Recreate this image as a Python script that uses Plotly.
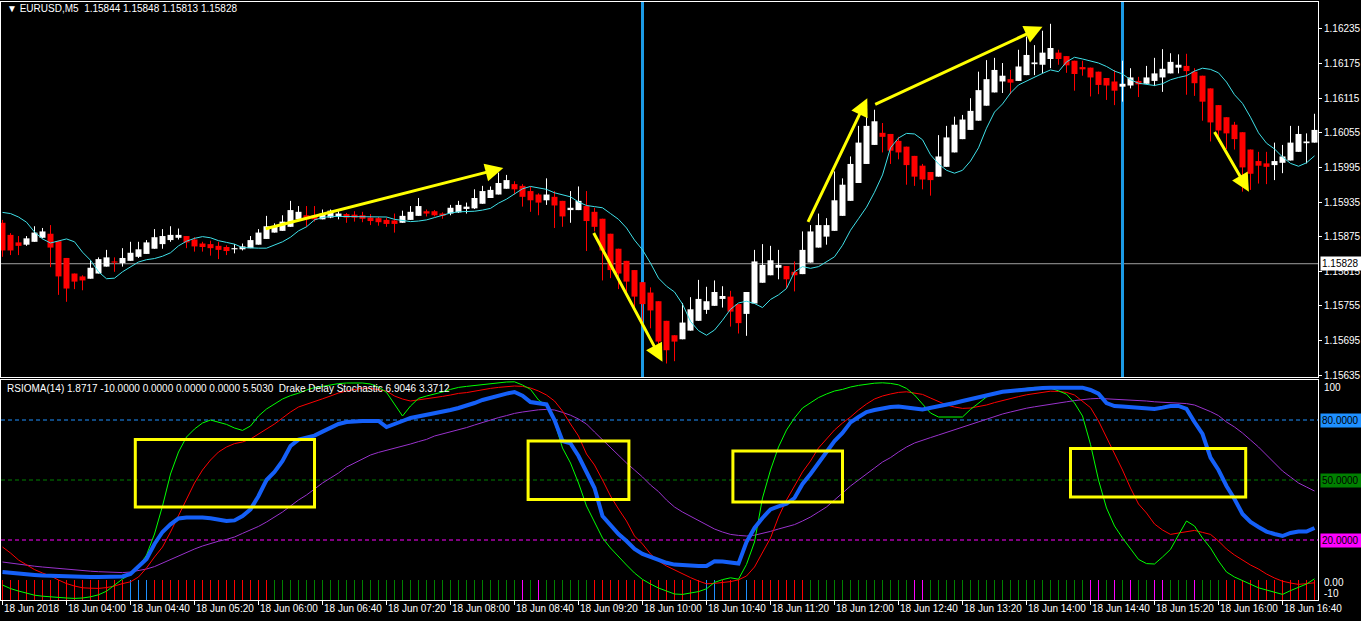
import plotly.graph_objects as go

# ---------------- data (EURUSD M5, bars from 18 Jun 03:20) ----------------
open_ = [1.15899,1.15878,1.15865,1.15861,1.15866,1.15873,1.15880,1.15867,1.15838,1.15811,
1.15806,1.15802,1.15811,1.15823,1.15832,1.15829,1.15833,1.15840,1.15845,1.15854,
1.15862,1.15869,1.15873,1.15876,1.15870,1.15863,1.15862,1.15859,1.15857,1.15853,
1.15853,1.15855,1.15861,1.15871,1.15882,1.15885,1.15892,1.15905,1.15912,1.15912,
1.15905,1.15908,1.15910,1.15914,1.15913,1.15912,1.15908,1.15907,1.15904,1.15903,
1.15899,1.15904,1.15911,1.15919,1.15919,1.15915,1.15915,1.15917,1.15923,1.15924,
1.15932,1.15942,1.15948,1.15958,1.15966,1.15963,1.15954,1.15948,1.15938,1.15944,
1.15937,1.15921,1.15921,1.15928,1.15918,1.15906,1.15880,1.15854,1.15833,1.15817,
1.15796,1.15778,1.15763,1.15729,1.15704,1.15697,1.15712,1.15729,1.15748,1.15755,
1.15767,1.15771,1.15758,1.15741,1.15759,1.15795,1.15808,1.15821,1.15824,1.15814,
1.15810,1.15830,1.15856,1.15875,1.15885,1.15911,1.15937,1.15968,1.16001,1.16034,
1.16055,1.16053,1.16041,1.16031,1.16015,1.15998,1.15987,1.15979,1.15996,1.16021,
1.16044,1.16060,1.16076,1.16102,1.16125,1.16144,1.16148,1.16145,1.16155,1.16174,
1.16173,1.16183,1.16194,1.16188,1.16180,1.16169,1.16168,1.16161,1.16150,1.16144,
1.16135,1.16137,1.16145,1.16140,1.16145,1.16151,1.16158,1.16168,1.16171,1.16161,
1.16154,1.16132,1.16103,1.16082,1.16069,1.16056,1.16026,1.16006,1.16002,1.15999,
1.16003,1.16007,1.16022,1.16037,1.16038]
high_ = [1.15904,1.15881,1.15876,1.15876,1.15893,1.15890,1.15895,1.15867,1.15838,1.15811,
1.15808,1.15834,1.15839,1.15852,1.15839,1.15855,1.15866,1.15866,1.15869,1.15888,
1.15888,1.15893,1.15889,1.15876,1.15874,1.15866,1.15868,1.15866,1.15860,1.15862,
1.15863,1.15876,1.15888,1.15911,1.15898,1.15912,1.15937,1.15928,1.15928,1.15928,
1.15922,1.15922,1.15919,1.15916,1.15919,1.15918,1.15914,1.15909,1.15908,1.15915,
1.15920,1.15928,1.15942,1.15922,1.15921,1.15917,1.15930,1.15937,1.15934,1.15957,
1.15963,1.15962,1.15986,1.15982,1.15971,1.15966,1.15962,1.15950,1.15976,1.15954,
1.15937,1.15954,1.15962,1.15954,1.15925,1.15906,1.15880,1.15854,1.15833,1.15817,
1.15796,1.15787,1.15763,1.15729,1.15704,1.15760,1.15770,1.15800,1.15788,1.15799,
1.15789,1.15781,1.15758,1.15779,1.15852,1.15862,1.15859,1.15852,1.15824,1.15832,
1.15884,1.15895,1.15915,1.15907,1.15988,1.15976,1.16014,1.16067,1.16083,1.16095,
1.16072,1.16053,1.16048,1.16031,1.16015,1.16001,1.15987,1.16051,1.16067,1.16083,
1.16086,1.16115,1.16161,1.16181,1.16185,1.16176,1.16164,1.16199,1.16222,1.16207,
1.16232,1.16244,1.16199,1.16188,1.16180,1.16180,1.16168,1.16161,1.16150,1.16164,
1.16180,1.16167,1.16152,1.16171,1.16185,1.16200,1.16193,1.16191,1.16192,1.16167,
1.16154,1.16132,1.16103,1.16082,1.16074,1.16056,1.16026,1.16022,1.16022,1.16038,
1.16034,1.16067,1.16067,1.16054,1.16088]
low_ = [1.15840,1.15843,1.15843,1.15859,1.15866,1.15872,1.15822,1.15774,1.15762,1.15784,
1.15782,1.15802,1.15811,1.15823,1.15814,1.15823,1.15833,1.15838,1.15845,1.15854,
1.15854,1.15866,1.15870,1.15855,1.15849,1.15849,1.15842,1.15836,1.15843,1.15846,
1.15851,1.15855,1.15861,1.15871,1.15882,1.15885,1.15892,1.15905,1.15892,1.15901,
1.15905,1.15907,1.15905,1.15899,1.15901,1.15900,1.15895,1.15894,1.15892,1.15882,
1.15899,1.15904,1.15911,1.15910,1.15910,1.15906,1.15912,1.15916,1.15915,1.15923,
1.15932,1.15942,1.15948,1.15958,1.15948,1.15927,1.15918,1.15912,1.15930,1.15890,
1.15892,1.15899,1.15921,1.15850,1.15884,1.15799,1.15803,1.15784,1.15777,1.15751,
1.15725,1.15716,1.15681,1.15655,1.15659,1.15697,1.15712,1.15729,1.15741,1.15755,
1.15752,1.15719,1.15707,1.15703,1.15759,1.15795,1.15808,1.15801,1.15785,1.15780,
1.15810,1.15830,1.15856,1.15861,1.15885,1.15911,1.15937,1.15968,1.16001,1.16034,
1.16021,1.16001,1.16009,1.15965,1.15963,1.15957,1.15946,1.15979,1.15996,1.16021,
1.16044,1.16060,1.16076,1.16102,1.16125,1.16124,1.16122,1.16145,1.16155,1.16155,
1.16158,1.16167,1.16173,1.16159,1.16128,1.16154,1.16118,1.16122,1.16112,1.16103,
1.16109,1.16132,1.16117,1.16140,1.16136,1.16126,1.16158,1.16158,1.16121,1.16119,
1.16076,1.16040,1.16040,1.16027,1.16026,1.15953,1.15956,1.15967,1.15966,1.15973,
1.15985,1.16007,1.16022,1.16002,1.16038]
close_ = [1.15851,1.15851,1.15859,1.15872,1.15882,1.15884,1.15856,1.15806,1.15785,1.15797,
1.15799,1.15821,1.15836,1.15839,1.15830,1.15838,1.15847,1.15853,1.15865,1.15874,
1.15876,1.15878,1.15878,1.15865,1.15858,1.15857,1.15855,1.15852,1.15850,1.15855,
1.15858,1.15869,1.15882,1.15893,1.15892,1.15901,1.15921,1.15918,1.15905,1.15905,
1.15915,1.15920,1.15915,1.15908,1.15908,1.15906,1.15902,1.15900,1.15897,1.15897,
1.15911,1.15918,1.15928,1.15915,1.15912,1.15911,1.15925,1.15930,1.15927,1.15942,
1.15954,1.15956,1.15968,1.15973,1.15957,1.15944,1.15938,1.15934,1.15948,1.15929,
1.15910,1.15925,1.15937,1.15902,1.15892,1.15851,1.15817,1.15811,1.15797,1.15771,
1.15758,1.15747,1.15693,1.15678,1.15693,1.15726,1.15749,1.15767,1.15763,1.15779,
1.15772,1.15745,1.15725,1.15779,1.15832,1.15826,1.15834,1.15826,1.15801,1.15808,
1.15852,1.15884,1.15895,1.15895,1.15938,1.15965,1.16001,1.16038,1.16067,1.16075,
1.16048,1.16024,1.16021,1.15999,1.15979,1.15974,1.15973,1.16014,1.16047,1.16069,
1.16078,1.16093,1.16129,1.16148,1.16164,1.16154,1.16142,1.16170,1.16190,1.16177,
1.16194,1.16202,1.16183,1.16172,1.16157,1.16165,1.16151,1.16138,1.16137,1.16128,
1.16140,1.16151,1.16139,1.16151,1.16158,1.16166,1.16178,1.16173,1.16162,1.16141,
1.16109,1.16073,1.16059,1.16054,1.16044,1.15995,1.15984,1.15998,1.15996,1.16006,
1.16014,1.16038,1.16053,1.16040,1.16060]
ma_ = [1.15917,1.15915,1.15909,1.15900,1.15883,1.15871,1.15864,1.15867,1.15871,1.15866,
1.15848,1.15834,1.15814,1.15802,1.15803,1.15814,1.15822,1.15831,1.15835,1.15837,
1.15841,1.15847,1.15859,1.15867,1.15872,1.15875,1.15873,1.15868,1.15865,1.15862,
1.15856,1.15855,1.15855,1.15855,1.15860,1.15866,1.15874,1.15885,1.15892,1.15904,
1.15908,1.15910,1.15910,1.15910,1.15910,1.15910,1.15910,1.15910,1.15909,1.15905,
1.15903,1.15901,1.15902,1.15904,1.15908,1.15912,1.15916,1.15918,1.15918,1.15919,
1.15921,1.15924,1.15933,1.15940,1.15949,1.15958,1.15962,1.15960,1.15957,1.15951,
1.15947,1.15944,1.15935,1.15929,1.15927,1.15925,1.15915,1.15905,1.15890,1.15869,
1.15852,1.15829,1.15803,1.15789,1.15779,1.15758,1.15728,1.15712,1.15704,1.15713,
1.15730,1.15749,1.15760,1.15763,1.15759,1.15752,1.15766,1.15774,1.15785,1.15814,
1.15823,1.15820,1.15823,1.15831,1.15840,1.15860,1.15886,1.15906,1.15926,1.15952,
1.15982,1.16029,1.16046,1.16054,1.16053,1.16043,1.16017,1.16001,1.15990,1.15985,
1.15990,1.16006,1.16029,1.16063,1.16091,1.16105,1.16124,1.16138,1.16145,1.16151,
1.16158,1.16164,1.16161,1.16178,1.16186,1.16183,1.16180,1.16176,1.16170,1.16162,
1.16157,1.16147,1.16141,1.16139,1.16137,1.16140,1.16147,1.16151,1.16154,1.16162,
1.16167,1.16165,1.16159,1.16143,1.16121,1.16106,1.16082,1.16055,1.16037,1.16027,
1.16013,1.16002,1.15997,1.16003,1.16015]

rsioma_ = [4.0,3.5,3.2,2.8,2.5,2.2,2.0,1.9,1.8,1.6,
1.5,1.5,1.5,1.5,1.6,1.8,3.0,6.5,10.5,18,
24,27.8,30.8,31.3,31.4,31.3,30.9,30.2,29.5,29.8,
32,35.3,42,50,54,59.5,67,70.2,71,72.2,
74.2,76.2,78,79,79.5,79.5,79.5,79.5,76.5,77.8,
79.5,81,81.8,82.7,83.4,83.8,85,86,87,88.5,
90,91.2,92.2,93.2,94,92.2,89,88.2,87.8,80,
69.5,68.3,62,54,46,32,27.5,23,19.5,15.5,
13,11.5,10,8.6,7.7,7.3,7.1,7.0,7.0,9.4,
9.2,8.8,8.2,19,26,31,35.3,36.8,38.1,41,
48,53,58.5,64,69.5,73.5,78.8,81.5,84,85,
85.8,86.5,86.8,86.5,85.8,85.3,86,87,87.8,88.5,
89.5,90.5,91.5,92.5,93.6,94.1,94.5,95,95.3,95.6,
96,96.15,96.15,96.15,96.15,96.15,95,93.2,88.5,87,
86.8,86.6,86.3,85.8,85.5,86.2,87,87,85.5,79,
73,61.2,55,47,40.5,33,29,26.5,24.2,23,
22,23.5,24.2,24.2,26]
stoch_main_ = [-2.5,-4.3,-5.5,-6.7,-7.6,-8.1,-8.5,-8.8,-9.0,-9.2,
-9.0,-8.4,-7.4,-5.6,-2.5,0.5,2.8,6.5,12.5,23,
37,53,64,71.5,75.5,78.5,80,79,77.8,76,
74.8,77,82,85.5,88,90.5,92.2,93.4,95,96.2,
96.8,97.6,98.2,98.5,98.6,98.5,98,96.5,93.8,88,
82,87,90.8,92,92.9,94,95.3,96.3,96.8,97.3,
97.8,98.2,98.6,99,99.1,97.5,95.3,90,87.2,79,
66,58.5,48.5,37,29,21,16,11.5,7.5,3.5,
0.3,-2,-4,-5.5,-7,-7.2,-6.6,-5.8,-4.4,-1.2,
0.2,1.1,0.4,7.8,19,41,55,66.5,75,81,
86,88.5,91.2,93,94.5,95.3,96.5,97.3,97.9,98.4,
98.6,98.3,97.6,95.8,92.5,88,83.5,81.5,81.5,81.5,
81.5,85.3,88.5,91.5,93.6,94.5,94.9,95.3,95.8,96.3,
96.3,95.9,94.6,92.9,88.5,82,67.8,50,36,27,
21,15.5,10.3,8.2,8,11.5,15.3,22.5,29.5,27,
21,16,9.5,4,1.5,-0.3,-2.2,-3.9,-5,-6,
-7.2,-5.3,-3.8,-2,0.6]
stoch_signal_ = [16.5,13.5,10,7.5,5.2,3.5,2,0,-1.8,-3,
-3.9,-4.1,-4.2,-3.8,-3,-1.8,-0.9,1.5,6,11.5,
16.5,24,32,40,48.5,55,60,64,66.5,68.2,
69,70.5,73,75.5,78,81,84,86.5,88,89.5,
90.6,92,93.5,94.5,95.3,96,95.8,95.2,94.5,92,
90.5,89.5,90,90.8,91.1,91.8,92.5,93.3,93.7,94.4,
95.3,95.8,96.3,96.8,97,96.8,96,94.5,92.5,89.5,
84.5,78,72,63,57.5,50,42,35.5,29.5,22,
18,13,9.5,7,5,3,1.2,-0.5,-1.9,-1.7,
-1.4,-0.8,0.1,2,6.5,13.5,21,31.5,40,47,
54,59.5,66,70.5,75,78.5,81.5,85,88,90.5,
92,93,93.8,94.1,93.6,92.8,91,89.2,87.5,86.5,
85.8,86,86.6,87.5,88.7,89.8,90.8,91.7,92.6,93.3,
93.9,94.4,94.3,93.8,92.5,89.5,86.2,79.5,71.5,63.5,
55,46,38,33.5,28,25,22.8,23.5,24.2,24.8,
23.8,22.8,19.5,15.5,12.5,10,7.5,5.5,3,1,
-0.6,-1.5,-2.2,-1.8,-1.4]
stoch_slow_ = [9,8.4,7.9,7.3,6.9,6.5,6.1,5.7,5.3,5,
4.7,4.4,4.15,4,3.8,3.7,4,4.6,5.5,6.7,
8.5,10.5,12.2,13.8,15.5,17,18.3,19.4,20.3,21.5,
23.3,25,26.8,29,31.5,34,37,40,42.5,45.5,
48.5,51,53.5,56.5,58.5,60.5,62.5,63.8,64.8,65.9,
66.8,68,69.2,70.3,72,73,74,75,76.2,77.5,
78.8,80,81.2,82.2,83.3,84,84.6,85.1,85.3,85,
83.8,82.4,80.5,78,74,70,66.5,62.5,58.5,55,
51.5,47.5,44.2,40,36.5,34,31.8,29.5,27.5,25.5,
24,22.8,22.3,22,22.4,23.2,24.3,25.5,26.5,27.7,
29.5,31.5,34,36.5,40,43.5,47,50,53.2,56,
59,61.2,64,66.5,68.5,70,71.2,72.5,73.8,75.2,
76.5,77.8,79.2,80.5,81.8,83,84,85,85.9,86.6,
87.3,87.8,88.5,89.1,89.7,90.2,90.6,90.8,90.6,90.4,
90.3,90.1,89.8,89.5,89.1,88.9,88.7,88.4,88.2,87.5,
86,84.2,82.2,79,76.5,73.5,70,66.5,62.5,58.5,
54.5,51.5,48.5,46.5,44.5]
# histogram colour code per bar (R red, G green, M magenta, B blue)
hist_codes = list("RRRRRRRRRRRRRRRR" "BBB" "RRRRRRRRRRRRRRR"
                  "GGGGGGGGGGGGGGGGGGGGGGGGGGGGGGG" "MGM" "GGGGGG"
                  "RRRRRRRRRRRRRR" "BB" "RRR" "B" "RRRRRRR"
                  "GGGGGGGGGGGGG" "MM" "GGGGGGGGGGGGGGGGGGGG"
                  "MMGMGMGGMMGGGMGGG" "RRRRRRRRRRRR")
hist_top, hist_bottom = 0, -10

tick_bars = [0, 8, 16, 24, 32, 40, 48, 56, 64, 72, 80, 88, 96, 104, 112, 120, 128, 136, 144, 152, 160]
tick_labels = ["18 Jun 2018", "18 Jun 04:00", "18 Jun 04:40", "18 Jun 05:20", "18 Jun 06:00",
               "18 Jun 06:40", "18 Jun 07:20", "18 Jun 08:00", "18 Jun 08:40", "18 Jun 09:20",
               "18 Jun 10:00", "18 Jun 10:40", "18 Jun 11:20", "18 Jun 12:00", "18 Jun 12:40",
               "18 Jun 13:20", "18 Jun 14:00", "18 Jun 14:40", "18 Jun 15:20", "18 Jun 16:00",
               "18 Jun 16:40"]
price_ticks = [1.16235, 1.16175, 1.16115, 1.16055, 1.15995, 1.15935, 1.15875, 1.15815, 1.15755, 1.15695, 1.15635]
bid_price = 1.15828
separator_bars = [80, 140]

arrow_tail_x = [32.7, 73.8, 100.6, 108.9, 151.4]
arrow_tail_y = [1.15888, 1.15884, 1.15898, 1.16103, 1.16059]
arrow_head_x = [62.6, 82.5, 108.1, 130.0, 155.8]
arrow_head_y = [1.15994, 1.15658, 1.16115, 1.16239, 1.15953]

box_x0 = [16.6, 65.7, 91.3, 133.5]
box_x1 = [39.0, 78.3, 105.0, 155.4]
box_y0 = [36.5, 40.3, 39.0, 41.5]
box_y1 = [70.2, 69.5, 64.5, 65.7]

levels = [80, 50, 20]
level_colors = ["#1E90FF", "#008000", "#FF00FF"]

# ---------------- geometry ----------------
W, H = 1361, 621
def py(px):
    return 1 - px / H

FONT = "Liberation Sans, Arial, sans-serif"
N = len(open_)
xs = list(range(N))

fig = go.Figure()

# wicks
for is_bull, col in [(True, "#FFFFFF"), (False, "#FF0000")]:
    X, Y = [], []
    for i in xs:
        if (close_[i] >= open_[i]) == is_bull:
            X += [i, i, None]
            Y += [low_[i], high_[i], None]
    fig.add_trace(go.Scatter(x=X, y=Y, mode="lines", line=dict(color=col, width=1),
                             hoverinfo="skip", xaxis="x", yaxis="y"))

# bodies
body_base = [min(o, c) for o, c in zip(open_, close_)]
body_h = [max(abs(c - o), 0.000014) for o, c in zip(open_, close_)]
body_col = ["#FFFFFF" if c >= o else "#FF0000" for o, c in zip(open_, close_)]
fig.add_trace(go.Bar(x=xs, y=body_h, base=body_base, width=0.75,
                     marker=dict(color=body_col, line=dict(width=0)),
                     hoverinfo="skip", xaxis="x", yaxis="y"))

# moving average
fig.add_trace(go.Scatter(x=xs, y=ma_, mode="lines", line=dict(color="#3FE0E8", width=1),
                         hoverinfo="skip", xaxis="x", yaxis="y"))

# histogram in lower panel
code_col = {"R": "#FF0000", "G": "#008000", "M": "#FF00FF", "B": "#1E90FF"}
for code, col in code_col.items():
    X, Y = [], []
    for i in xs:
        if hist_codes[i] == code:
            X += [i, i, None]
            Y += [hist_top, hist_bottom, None]
    fig.add_trace(go.Scatter(x=X, y=Y, mode="lines", line=dict(color=col, width=1),
                             hoverinfo="skip", xaxis="x2", yaxis="y2"))

# oscillators
fig.add_trace(go.Scatter(x=xs, y=stoch_slow_, mode="lines", line=dict(color="#9932CC", width=1),
                         hoverinfo="skip", xaxis="x2", yaxis="y2"))
fig.add_trace(go.Scatter(x=xs, y=stoch_signal_, mode="lines", line=dict(color="#FF0000", width=1),
                         hoverinfo="skip", xaxis="x2", yaxis="y2"))
fig.add_trace(go.Scatter(x=xs, y=stoch_main_, mode="lines", line=dict(color="#00FF00", width=1),
                         hoverinfo="skip", xaxis="x2", yaxis="y2"))
fig.add_trace(go.Scatter(x=xs, y=rsioma_, mode="lines", line=dict(color="#1560F8", width=4),
                         hoverinfo="skip", xaxis="x2", yaxis="y2"))

shapes = []
for lv, col in zip(levels, level_colors):
    shapes.append(dict(type="line", xref="x2 domain", x0=0, x1=1, yref="y2", y0=lv, y1=lv,
                       line=dict(color=col, width=1, dash="4px,3px"), layer="below"))
shapes.append(dict(type="line", xref="x domain", x0=0, x1=1, yref="y", y0=bid_price, y1=bid_price,
                   line=dict(color="#A0A0A0", width=1), layer="below"))
for b in separator_bars:
    shapes.append(dict(type="line", xref="x", x0=b, x1=b, yref="y domain", y0=0, y1=1,
                       line=dict(color="#1C9BE6", width=3), layer="below"))
for a, b, c, d in zip(box_x0, box_x1, box_y0, box_y1):
    shapes.append(dict(type="rect", xref="x2", yref="y2", x0=a, x1=b, y0=c, y1=d,
                       line=dict(color="#FFFF00", width=3), fillcolor="rgba(0,0,0,0)"))

ann = []
for tx, ty, hx, hy in zip(arrow_tail_x, arrow_tail_y, arrow_head_x, arrow_head_y):
    ann.append(dict(x=hx, y=hy, ax=tx, ay=ty, xref="x", yref="y", axref="x", ayref="y",
                    text="", showarrow=True, arrowhead=2, arrowsize=1.2, arrowwidth=3,
                    arrowcolor="#FFFF00", standoff=0))

ann.append(dict(x=5 / W, y=py(9), xref="paper", yref="paper", xanchor="left", yanchor="middle",
                text="\u25BC\u00a0EURUSD,M5\u00a0\u00a01.15844\u00a01.15848\u00a01.15813\u00a01.15828",
                showarrow=False, font=dict(family=FONT, size=10, color="#FFFFFF")))
ann.append(dict(x=5 / W, y=py(388), xref="paper", yref="paper", xanchor="left", yanchor="middle",
                text="RSIOMA(14)\u00a01.8717\u00a0-10.0000\u00a00.0000\u00a00.0000\u00a00.0000\u00a05.5030\u00a0\u00a0Drake\u00a0Delay\u00a0Stochastic\u00a06.9046\u00a03.3712",
                showarrow=False, font=dict(family=FONT, size=10, color="#FFFFFF")))

for b, t in zip(tick_bars, tick_labels):
    ann.append(dict(x=b - 0.1, y=py(608), xref="x2", yref="paper", xanchor="left", yanchor="middle",
                    text=t.replace(" ", "\u00a0"), showarrow=False,
                    font=dict(family=FONT, size=10, color="#FFFFFF")))

ann.append(dict(x=1320 / W, y=bid_price, xref="paper", yref="y", xanchor="left", yanchor="middle",
                text="1.15828\u00a0", showarrow=False, bgcolor="#FFFFFF", borderpad=1,
                font=dict(family=FONT, size=10, color="#000000")))
for lv, col, txt in zip(levels, level_colors, ["80.0000", "50.0000", "20.0000"]):
    ann.append(dict(x=1320 / W, y=lv, xref="paper", yref="y2", xanchor="left", yanchor="middle",
                    text=txt + "\u00a0", showarrow=False, bgcolor=col, borderpad=1,
                    font=dict(family=FONT, size=10, color="#000000")))
for txt, pxy in [("100", 387), ("0.00", 582), ("-10", 593)]:
    ann.append(dict(x=1322 / W, y=py(pxy), xref="paper", yref="paper", xanchor="left", yanchor="middle",
                    text=txt, showarrow=False, font=dict(family=FONT, size=10, color="#FFFFFF")))

x_dom = [1 / W, 1318 / W]
x_rng = [-0.1875, 164.4375]
fig.update_layout(
    width=W, height=H, autosize=False,
    margin=dict(l=0, r=0, t=0, b=0, pad=0),
    paper_bgcolor="#000000", plot_bgcolor="#000000",
    showlegend=False, barmode="overlay", hovermode=False,
    xaxis=dict(domain=x_dom, range=x_rng, anchor="y", showgrid=False, zeroline=False,
               showticklabels=False, ticks="", showline=True, mirror=True,
               linecolor="#FFFFFF", linewidth=1, fixedrange=True),
    yaxis=dict(domain=[py(377), py(2)], range=[1.156316, 1.162818], anchor="x", side="right",
               showgrid=False, zeroline=False, tickmode="array", tickvals=price_ticks,
               ticktext=[f"{p:.5f}" for p in price_ticks], ticks="outside", ticklen=3,
               tickcolor="#FFFFFF", tickfont=dict(family=FONT, size=10, color="#FFFFFF"),
               showline=True, mirror=True, linecolor="#FFFFFF", linewidth=1, automargin=False),
    xaxis2=dict(domain=x_dom, range=x_rng, anchor="y2", matches="x", showgrid=False, zeroline=False,
                tickmode="array", tickvals=tick_bars, showticklabels=False, ticks="outside",
                ticklen=4, tickcolor="#FFFFFF", showline=True, mirror=True,
                linecolor="#FFFFFF", linewidth=1),
    yaxis2=dict(domain=[py(600), py(380)], range=[-10, 100], anchor="x2", side="right",
                showgrid=False, zeroline=False, showticklabels=False, ticks="",
                showline=True, mirror=True, linecolor="#FFFFFF", linewidth=1, automargin=False),
    shapes=shapes, annotations=ann,
)

fig.write_html("out.html", config={"displayModeBar": False, "staticPlot": True})
